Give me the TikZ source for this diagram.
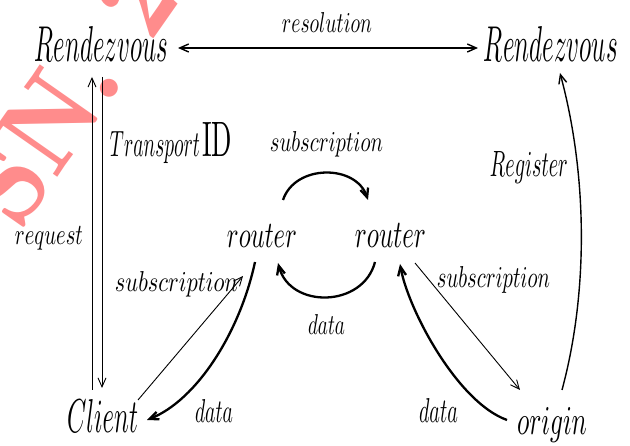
\documentclass[tikz,border=0pt]{standalone}
\usepackage{graphicx}
\usetikzlibrary{arrows.meta,calc}
\definecolor{wmred}{RGB}{255,140,140}
% math-italic text squeezed into a box of given width and height (in pt)
\newcommand{\sq}[3]{\resizebox{#1pt}{#2pt}{$#3$}}
\begin{document}
\begin{tikzpicture}[x=1pt,y=-1pt,
  lbl/.style={inner sep=0pt,outer sep=0pt,anchor=base},
  wmark/.style={rotate=55,inner sep=0pt,text=wmred,
                font=\fontsize{115}{115}\fontseries{b}\selectfont},
  fineline/.style={line width=0.9pt},
  midline/.style={line width=1.4pt},
  heavyline/.style={line width=2.3pt},
  barb/.style={-{Straight Barb[length=9pt,width=8pt]}},
  dbarb/.style={{Straight Barb[length=9pt,width=8pt]}-{Straight Barb[length=9pt,width=8pt]}}]
\useasboundingbox (0,0) rectangle (630,446);
\clip (0,0) rectangle (630,446);

% watermark
\node[wmark,anchor=base east] (wmA) at (126,80) {SN.};
\node[wmark,anchor=base west] (wmB) at (150,44) {2};

% main nodes
\node[lbl] (rzL) at (101.5,62) {\sq{133}{35}{Rendezvous}};
\node[lbl] (rzR) at (551,62) {\sq{134}{35}{Rendezvous}};
\node[lbl] (rtL) at (262,248) {\sq{70}{23}{router}};
\node[lbl] (rtR) at (390.5,248) {\sq{71}{24}{router}};
\node[lbl] (cl) at (102.5,433) {\sq{71}{33}{Client}};
\node[lbl] (og) at (552,435) {\sq{70}{27}{origin}};

% labels
\node[lbl] (lres) at (327,33) {\sq{90}{20}{resolution}};
\node[lbl] (ltr) at (155,157) {\sq{90}{25}{Transport}};
\node[lbl] (lid) at (217,157) {\sq{30}{34}{\mathrm{ID}}};
\node[lbl] (lreq) at (49,245) {\sq{68}{18}{request}};
\node[lbl] (lsubL) at (176.5,292) {\sq{123}{20}{subscription}};
\node[lbl] (lsubT) at (326.5,152) {\sq{113}{20}{subscription}};
\node[lbl] (lsubR) at (493.5,288) {\sq{113}{21}{subscription}};
\node[lbl] (ldM) at (326.5,335) {\sq{37}{20}{data}};
\node[lbl] (ldL) at (214,423) {\sq{38}{23}{data}};
\node[lbl] (ldR) at (438.5,423) {\sq{39}{24}{data}};
\node[lbl] (lreg) at (529,177) {\sq{78}{25}{Register}};

% connectors
\draw[midline,dbarb] ($(rzL.east)+(10,3.5)$) -- ($(rzR.west)+(-6,3.5)$);
\draw[fineline,barb] ($(rzL.south)+(0.5,15)$) -- ($(cl.north)+(-0.5,-12)$);
\draw[fineline,barb] ($(cl.north)+(-10.5,-10)$) -- ($(rzL.south)+(-9.5,15)$);

\draw[heavyline,barb] ($(rtL.north)+(21,-25)$) .. controls +(12,-36) and +(-12,-36) .. ($(rtR.north)+(-22.5,-24)$);
\draw[heavyline,barb] ($(rtR.south)+(-15.5,14)$) .. controls +(-12,46) and +(12,46) .. ($(rtL.south)+(16,15)$);

\draw[fineline,barb] (cl.north east) -- ($(rtL.south west)+(16,28)$);
\draw[heavyline,barb] ($(rtL.south)+(-7,14)$) .. controls +(-15,70) and +(50,-20) .. ($(cl.east)+(9,3.5)$);

\draw[fineline,barb] ($(rtR.south east)+(-11,15)$) -- ($(og.north west)+(3,-18)$);
\draw[heavyline,barb] ($(og.base west)+(-10,-15)$) .. controls +(-50,-18) and +(8,45) .. ($(rtR.south)+(9.5,16)$);
\draw[midline,barb] ($(og.north)+(10,-18)$) .. controls +(27,-100) and +(27,100) .. ($(rzR.south)+(9,11)$);
\end{tikzpicture}
\end{document}
